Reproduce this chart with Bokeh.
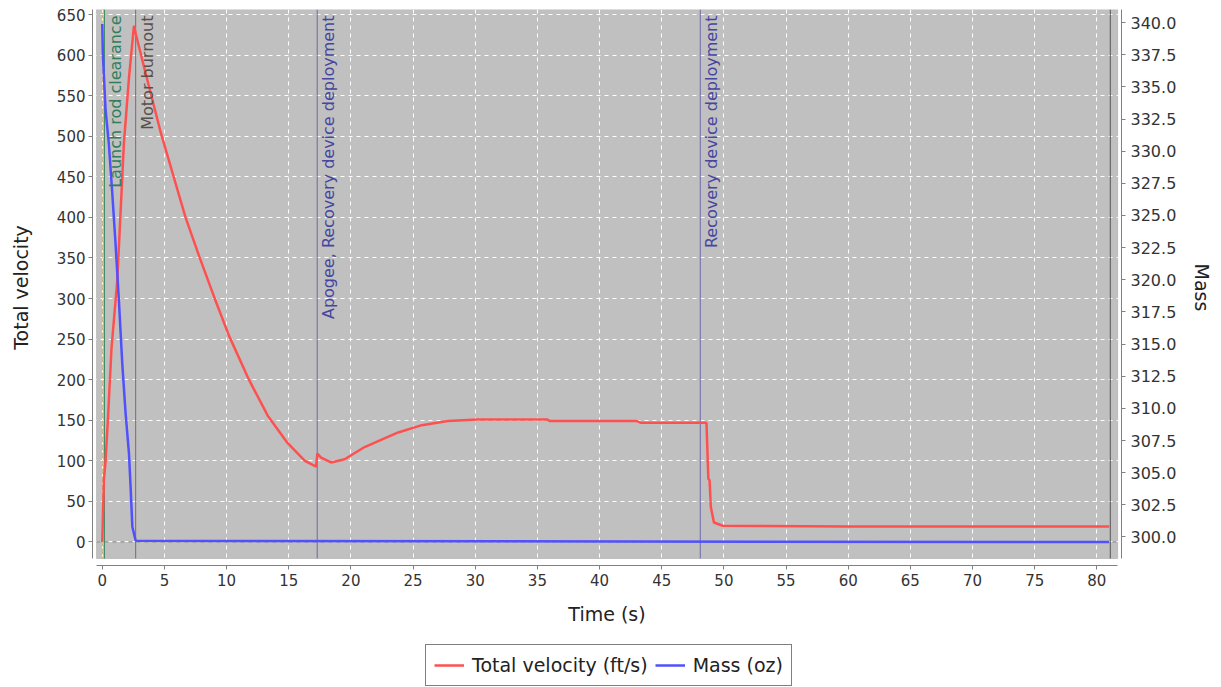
import math
from bokeh.plotting import figure
from bokeh.layouts import column
from bokeh.models import (Range1d, LinearAxis, FixedTicker, NumeralTickFormatter,
                          BoxAnnotation, Legend, LegendItem)
from bokeh.core.properties import value
from bokeh.embed import file_html
from bokeh.resources import INLINE

# ---------------- data ----------------
time_v = [0, 0.13, 0.27, 0.48, 0.75, 1.21, 1.48, 1.74, 2.15, 2.55, 2.7, 3.5, 4.7,
          5.65, 6.7, 7.8, 9.0, 10.2, 11.8, 13.3, 14.9, 16.3, 17.2, 17.3, 17.6,
          18.4, 19.5, 21.1, 23.8, 25.7, 27.8, 30.2, 35.8, 36.0, 43.0, 43.3, 48.6,
          48.75, 48.85, 48.95, 49.2, 49.9, 60.0, 81.0]
velocity = [0, 76, 100, 158, 240, 322, 408, 491, 572, 636, 626, 577, 505,
            455, 400, 352, 302, 254, 200, 156, 122, 100, 93, 109, 104,
            98, 102, 117, 135, 144, 149, 151, 151, 149, 149, 147, 147,
            78, 76, 43, 24, 20, 19, 19]

time_m = [0, 0.05, 0.27, 0.53, 0.81, 1.07, 1.34, 1.61, 1.88, 2.15, 2.28, 2.42,
          2.69, 81.0]
mass = [339.9, 337.5, 333.2, 330.6, 326.7, 322.8, 318.4, 313.5, 309.6, 306.5,
        303.9, 300.8, 299.7, 299.6]

event_times = [0.18, 2.69, 17.29, 48.1, 81.08]
event_labels = ["Launch rod clearance", "Motor burnout",
                "Apogee, Recovery device deployment", "Recovery device deployment", ""]
event_colors = ["#3d8a68", "#7a6c66", "#6a6aaa", "#6a6aaa", "#555555"]
label_colors = ["#2f7f5c", "#5a504a", "#4646a0", "#4646a0", "#555555"]
ignition_time = [0.05]

x_ticks = list(range(0, 81, 5))
v_ticks = list(range(0, 651, 50))
m_ticks = [300 + 2.5 * i for i in range(17)]

series_names = ["Total velocity (ft/s)", "Mass (oz)"]
series_colors = ["#ff5050", "#5050ff"]

# ---------------- layout constants ----------------
W = 1221
H_MAIN, H_LEG = 635, 52
FONT = "DejaVu Sans"
X_RANGE = (-0.783, 81.98)
V_RANGE = (-28.96, 656.2)
M_RANGE = (297.78, 341.02)
GX = (-0.46, 81.67)        # extent of grey plot area (time)
GV = (-20.33, 656.2)       # extent of grey plot area (velocity)
GM = (298.33, 341.02)      # extent of grey plot area (mass)

p = figure(width=W, height=H_MAIN, output_backend="svg", toolbar_location=None,
           x_range=Range1d(*X_RANGE), y_range=Range1d(*V_RANGE),
           min_border_left=92, min_border_right=100, min_border_top=9,
           min_border_bottom=H_MAIN - 565)
p.background_fill_color = "white"
p.border_fill_color = "white"
p.outline_line_color = None
p.extra_y_ranges = {"mass": Range1d(*M_RANGE)}

# grey plot area
p.add_layout(BoxAnnotation(left=GX[0], right=GX[1], bottom=GV[0], top=GV[1],
                           fill_color="#c0c0c0", fill_alpha=1.0,
                           line_color="#7a7a7a", line_width=1, level="image"))

# grids
p.xgrid.ticker = FixedTicker(ticks=x_ticks)
p.ygrid.ticker = FixedTicker(ticks=v_ticks)
for g in (p.xgrid[0], p.ygrid[0]):
    g.grid_line_color = "white"
    g.grid_line_dash = "4 4"
    g.grid_line_width = 1

def style_axis(ax):
    ax.axis_line_color = "#808080"
    ax.major_tick_line_color = "#808080"
    ax.major_tick_out = 4
    ax.major_tick_in = 0
    ax.minor_tick_line_color = None
    ax.major_label_text_font = FONT
    ax.major_label_text_font_size = "15px"
    ax.major_label_text_color = "#333333"
    ax.axis_label_text_font = FONT
    ax.axis_label_text_font_size = "19px"
    ax.axis_label_text_font_style = "normal"
    ax.axis_label_text_color = "#222222"

xa = p.xaxis[0]
xa.ticker = FixedTicker(ticks=x_ticks)
xa.bounds = GX
xa.axis_label = "Time (s)"
style_axis(xa)
xa.major_label_standoff = 4
xa.axis_label_standoff = 14

ya = p.yaxis[0]
ya.ticker = FixedTicker(ticks=v_ticks)
ya.bounds = GV
ya.axis_label = "Total velocity"
style_axis(ya)
ya.major_label_standoff = 3
ya.axis_label_standoff = 22

ra = LinearAxis(y_range_name="mass", ticker=FixedTicker(ticks=m_ticks),
                formatter=NumeralTickFormatter(format="0.0"), bounds=GM,
                axis_label="Mass")
style_axis(ra)
ra.major_label_text_font_size = "16px"
ra.major_label_standoff = 5
ra.axis_label_standoff = 12
p.add_layout(ra, "right")

# zero base line
p.segment(x0=[GX[0]], y0=[0], x1=[GX[1]], y1=[0], line_color="#8c8c8c",
          line_dash="4 4", line_width=1)

# event lines
n = len(event_times)
p.segment(x0=ignition_time, y0=[GV[0]], x1=ignition_time, y1=[GV[1]],
          line_color="#d9a040", line_dash="2 2", line_width=1)
p.segment(x0=event_times, y0=[GV[0]] * n, x1=event_times, y1=[GV[1]] * n,
          line_color=event_colors, line_width=1)

# data lines
r_v = p.line(time_v, velocity, line_color=series_colors[0], line_width=2.5)
r_m = p.line(time_m, mass, y_range_name="mass", line_color=series_colors[1],
             line_width=2.5)

# event labels
p.text(x=event_times, y=[GV[1]] * n, text=event_labels, angle=math.pi / 2,
       text_align="right", text_baseline="top", x_offset=2, y_offset=6,
       text_font=value(FONT), text_font_size="16px", text_color=label_colors)

# ---------------- legend strip (separate figure below) ----------------
lg = figure(width=W, height=H_LEG, output_backend="svg", toolbar_location=None,
            x_range=Range1d(0, 1), y_range=Range1d(0, 1),
            min_border_left=0, min_border_right=0, min_border_top=0,
            min_border_bottom=0, x_axis_type=None, y_axis_type=None)
lg.outline_line_color = None
lg.background_fill_color = "white"
lg.border_fill_color = "white"
lg.grid.visible = False
# legend proxies: hidden copies of the two series styles (outside the view)
leg_renderers = [lg.line(x=[5, 6], y=[5, 6], line_color=c, line_width=2.5)
                 for c in series_colors]
legend = Legend(items=[LegendItem(label=nm, renderers=[r])
                       for nm, r in zip(series_names, leg_renderers)],
                orientation="horizontal", location=(333, 1),
                border_line_color="black", border_line_width=1,
                label_text_font=FONT, label_text_font_size="19px",
                label_text_color="#222222",
                glyph_width=30, glyph_height=24, spacing=7, padding=8,
                margin=0, label_standoff=8)
lg.add_layout(legend, "center")

layout = column(p, lg, spacing=0)
open("out.html", "w").write(file_html(layout, INLINE))
